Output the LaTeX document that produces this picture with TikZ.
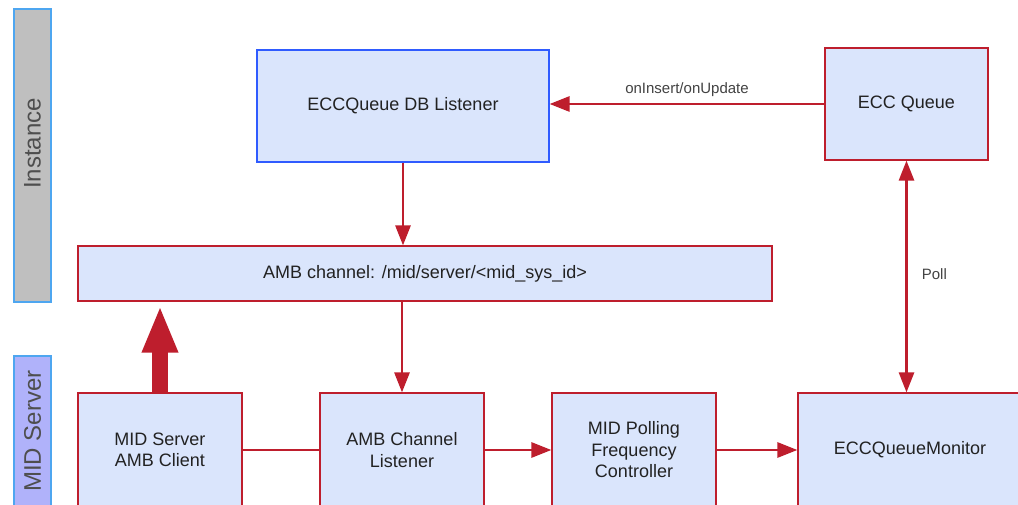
\documentclass[tikz,border=0pt]{standalone}
\usepackage{fontspec}
\setmainfont{Liberation Sans}
\usetikzlibrary{arrows.meta}
\definecolor{boxfill}{HTML}{DAE5FC}
\definecolor{redline}{HTML}{BE1E2D}
\definecolor{blueline}{HTML}{2F5BFF}
\definecolor{barblue}{HTML}{4EA6F0}
\definecolor{instfill}{HTML}{BFBFBF}
\definecolor{midfill}{HTML}{B0B2FA}
\definecolor{txt}{HTML}{222222}
\tikzset{
  box/.style={draw=redline, fill=boxfill, line width=1.2pt, inner sep=0pt, align=center,
    text=txt, font=\fontsize{18}{21.5}\selectfont},
  bluebox/.style={box, draw=blueline},
  bar/.style={draw=barblue, line width=1.2pt, inner sep=0pt, minimum width=37pt},
  bartext/.style={rotate=90, text=txt!80, font=\fontsize{24}{28}\selectfont, inner sep=0pt},
  arr/.style={draw=redline, line width=2.7pt, -{Triangle[length=20pt,width=15pt]}},
  dblarr/.style={arr, {Triangle[length=20pt,width=15pt]}-{Triangle[length=20pt,width=15pt]}},
  plain/.style={draw=redline, line width=2.7pt},
  fat/.style={draw=redline, line width=15.6pt, -{Triangle[length=47pt,width=33pt]}, shorten >=4pt},
  lbl/.style={text=txt!85, font=\fontsize{15}{18}\selectfont, inner sep=0pt}
}
\begin{document}
\begin{tikzpicture}[x=1pt,y=-1pt]
\useasboundingbox (0,0) rectangle (1018,505);
\clip (0,0) rectangle (1018,505);
\fill[white] (0,0) rectangle (1018,505);

% side bars
\node[bar, fill=instfill, minimum height=293pt] (inst) at (32.5,155.5) {};
\node[bartext] (insttxt) at (32.5,143.5) {Instance};
\node[bar, fill=midfill, minimum height=160pt] (mid) at (32.5,436) {};
\node[bartext] (midtxt) at (32.5,431) {MID Server};

% boxes
\node[bluebox, minimum width=292pt, minimum height=112pt] (dbl) at (403,106) {ECCQueue DB Listener};
\node[box, minimum width=163pt, minimum height=112pt] (eccq) at (906.5,104) {ECC Queue};
\node[box, minimum width=694pt, minimum height=55pt] (amb) at (425,273.5) {AMB channel: /mid/server/<mid\_sys\_id>};
\node[box, minimum width=164pt, minimum height=114pt] (client) at (160,450) {MID Server\\AMB Client};
\node[box, minimum width=164pt, minimum height=114pt] (listener) at (402,450) {AMB Channel\\Listener};
\node[box, minimum width=164pt, minimum height=114pt] (pollc) at (634,450) {MID Polling\\Frequency\\Controller};
\node[box, minimum width=224pt, minimum height=114pt] (mon) at (910,450) {ECCQueueMonitor};

% connectors
\draw[arr] (eccq.west) -- (eccq.west -| dbl.east)
  node[lbl, midway, above=6.5pt] (lins) {onInsert/onUpdate};
\draw[arr] (dbl.south) -- (dbl.south |- amb.north);
\draw[arr] (listener.north |- amb.south) -- (listener.north);
\draw[fat] (client.north) -- (client.north |- amb.south);
\draw[plain] (client.east) -- (listener.west);
\draw[arr] (listener.east) -- (pollc.west);
\draw[arr] (pollc.east) -- (mon.west);
\draw[dblarr] (eccq.south) -- (eccq.south |- mon.north)
  node[lbl, pos=0.49, right=14pt] (lpoll) {Poll};
\end{tikzpicture}
\end{document}
